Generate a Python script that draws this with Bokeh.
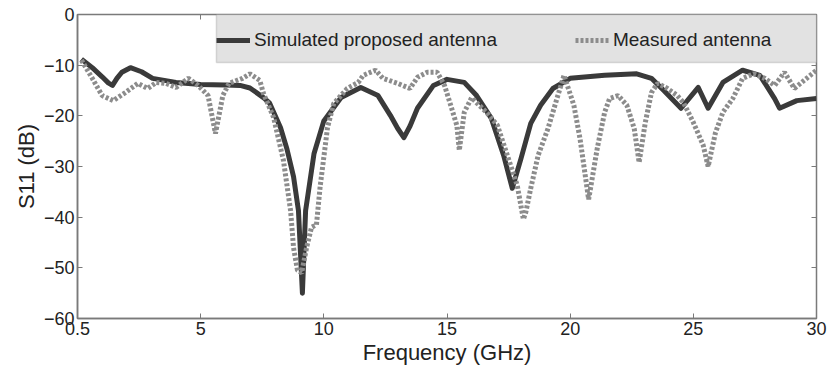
from bokeh.plotting import figure
from bokeh.models import (Range1d, LinearAxis, FixedTicker, Legend, LegendItem,
                          BoxAnnotation, ColumnDataSource)
from bokeh.embed import file_html
from bokeh.resources import INLINE

# ---- data ----
sim_freq = [0.16, 0.6, 1.0, 1.25, 1.42, 1.6, 1.8, 2.15, 2.6, 3.05, 4.0, 5.0, 6.0, 6.6, 7.0,
            7.55, 7.8, 8.24, 8.5, 8.77, 8.97, 9.13, 9.26, 9.6, 10.0, 10.7, 11.5,
            12.2, 12.7, 13.0, 13.25, 13.5, 13.8, 14.45, 15.0, 15.7, 16.2, 16.8, 17.3, 17.65,
            18.0, 18.4, 18.8, 19.3, 20.0, 21.4, 22.7, 23.3, 23.8, 24.5, 25.2,
            25.6, 26.2, 27.0, 27.7, 28.3, 28.5, 29.2, 30.0]
sim_s11 = [-8.8, -10.5, -12.3, -13.5, -14.0, -12.6, -11.4, -10.5, -11.3, -12.6, -13.4, -13.8,
           -13.9, -14.0, -14.5, -16.4, -17.5, -22.3, -26.5, -32.0, -38.7, -55.0,
           -38.7, -27.5, -21.0, -16.4, -14.4, -16.0, -19.9, -22.5, -24.3, -22.0, -18.5, -14.0,
           -12.8, -13.4, -16.0, -20.5, -27.8, -34.3, -28.5, -21.5, -17.9, -14.6,
           -12.6, -12.0, -11.7, -12.6, -15.0, -18.5, -14.4, -18.5, -13.4, -11.0,
           -12.0, -16.6, -18.5, -17.0, -16.6]

meas_freq = [0.16, 0.6, 1.0, 1.45, 1.95, 2.45, 2.85, 3.2, 3.6, 4.0, 4.5, 4.9, 5.3,
             5.6, 5.9, 6.15, 6.7, 7.0, 7.4, 7.55, 7.96, 8.36, 8.65, 8.77, 8.93,
             9.1, 9.3, 9.5, 9.7, 9.85, 10.15, 10.4, 10.95, 11.4, 11.6, 12.1, 12.4,
             13.0, 13.5, 13.8, 14.2, 14.6, 14.9, 15.15, 15.4, 15.5, 15.7, 16.0,
             16.2, 16.6, 17.05, 17.45, 17.85, 18.1, 18.2, 18.4, 18.7, 19.1, 19.5,
             19.75, 20.15, 20.4, 20.75, 21.1, 21.4, 21.6, 21.95, 22.3, 22.6, 22.8,
             23.05, 23.3, 23.55, 23.95, 24.35, 24.6, 25.0, 25.4, 25.6, 25.9, 26.2,
             26.6, 27.0, 27.45, 27.9, 28.3, 28.7, 29.1, 29.5, 30.0]
meas_s11 = [-9.0, -12.6, -16.0, -17.0, -15.4, -13.6, -14.6, -13.4, -13.6, -14.4,
            -12.6, -14.0, -16.0, -23.5, -16.0, -13.6, -12.6, -11.7, -13.0, -15.6,
            -20.3, -28.8, -38.7, -46.0, -50.5, -51.0, -46.0, -42.0, -41.5, -34.0,
            -22.3, -17.6, -14.6, -13.4, -12.0, -11.0, -12.6, -13.6, -14.6, -12.4,
            -11.4, -11.4, -14.0, -17.9, -21.9, -26.8, -19.3, -16.4, -17.4, -19.3,
            -21.9, -27.8, -33.7, -40.4, -39.0, -34.3, -27.8, -22.5, -16.0, -12.0,
            -17.9, -24.5, -36.5, -26.4, -19.3, -16.6, -16.0, -17.9, -22.5, -29.2,
            -21.3, -15.4, -13.6, -14.6, -16.0, -17.4, -21.3, -25.8, -30.0, -23.3,
            -19.3, -16.6, -12.6, -11.7, -12.6, -14.0, -11.4, -14.6, -13.0, -11.0]

x_ticks = [0, 5, 10, 15, 20, 25, 30]
x_tick_labels = {0: "0.5"}
y_ticks = [0, -10, -20, -30, -40, -50, -60]

series_names = ["Simulated proposed antenna", "Measured antenna"]

FONT = "Liberation Sans"
AX = "#7a7a7a"
TXT = "#222222"

p = figure(width=827, height=371, output_backend="svg", toolbar_location=None,
           x_range=Range1d(0, 30), y_range=Range1d(-60, 0),
           min_border_left=77, min_border_right=11, min_border_top=14,
           min_border_bottom=53, background_fill_color="white",
           border_fill_color="white", outline_line_color=AX, outline_line_width=1.5)
p.grid.visible = False

sim_src = ColumnDataSource(dict(f=sim_freq, s=sim_s11))
meas_src = ColumnDataSource(dict(f=meas_freq, s=meas_s11))

r_sim = p.line("f", "s", source=sim_src, line_color="#3a3a3a", line_width=5,
               line_join="round")
r_meas = p.line("f", "s", source=meas_src, line_color="#8c8c8c", line_width=5,
                line_dash="3 2")

# axes
for ax in (p.xaxis[0], p.yaxis[0]):
    ax.axis_line_color = AX
    ax.axis_line_width = 1.5
    ax.major_tick_line_color = AX
    ax.major_tick_in = 5
    ax.major_tick_out = 0
    ax.minor_tick_line_color = None
    ax.major_label_text_font = FONT
    ax.major_label_text_font_size = "18px"
    ax.major_label_text_color = TXT
    ax.axis_label_text_font = FONT
    ax.axis_label_text_font_size = "22px"
    ax.axis_label_text_font_style = "normal"
    ax.axis_label_text_color = TXT
    ax.major_label_standoff = 3
    ax.axis_label_standoff = 2

p.xaxis[0].ticker = FixedTicker(ticks=x_ticks)
p.xaxis[0].major_label_overrides = x_tick_labels
p.yaxis[0].ticker = FixedTicker(ticks=y_ticks)
p.xaxis[0].axis_label = "Frequency (GHz)"
p.yaxis[0].axis_label = "S11 (dB)"

# mirrored inward ticks on the top and right frame edges (no labels)
top = LinearAxis(ticker=FixedTicker(ticks=x_ticks), major_tick_in=5, major_tick_out=0,
                 major_tick_line_color=AX, minor_tick_line_color=None,
                 axis_line_color=None,
                 major_label_overrides={t: "" for t in x_ticks})
right = LinearAxis(ticker=FixedTicker(ticks=y_ticks), major_tick_in=5, major_tick_out=0,
                   major_tick_line_color=AX, minor_tick_line_color=None,
                   axis_line_color=None,
                   major_label_overrides={t: "" for t in y_ticks})
p.add_layout(top, "above")
p.add_layout(right, "right")

# legend box
box = BoxAnnotation(left=5.64, right=30, top=0, bottom=-9.47,
                    fill_color="#e2e2e2", fill_alpha=1.0,
                    line_color="#8f8f8f", line_width=1.5)
p.add_layout(box)

legend = Legend(items=[LegendItem(label=series_names[0], renderers=[r_sim]),
                       LegendItem(label=series_names[1], renderers=[r_meas])],
                orientation="horizontal", location=(139, 256), margin=0,
                padding=2, spacing=78, glyph_width=34, glyph_height=44,
                label_standoff=4, label_text_font=FONT, label_text_font_size="19px",
                label_text_color=TXT, background_fill_alpha=0,
                border_line_color=None)
p.add_layout(legend)

open("out.html", "w").write(file_html(p, INLINE))
